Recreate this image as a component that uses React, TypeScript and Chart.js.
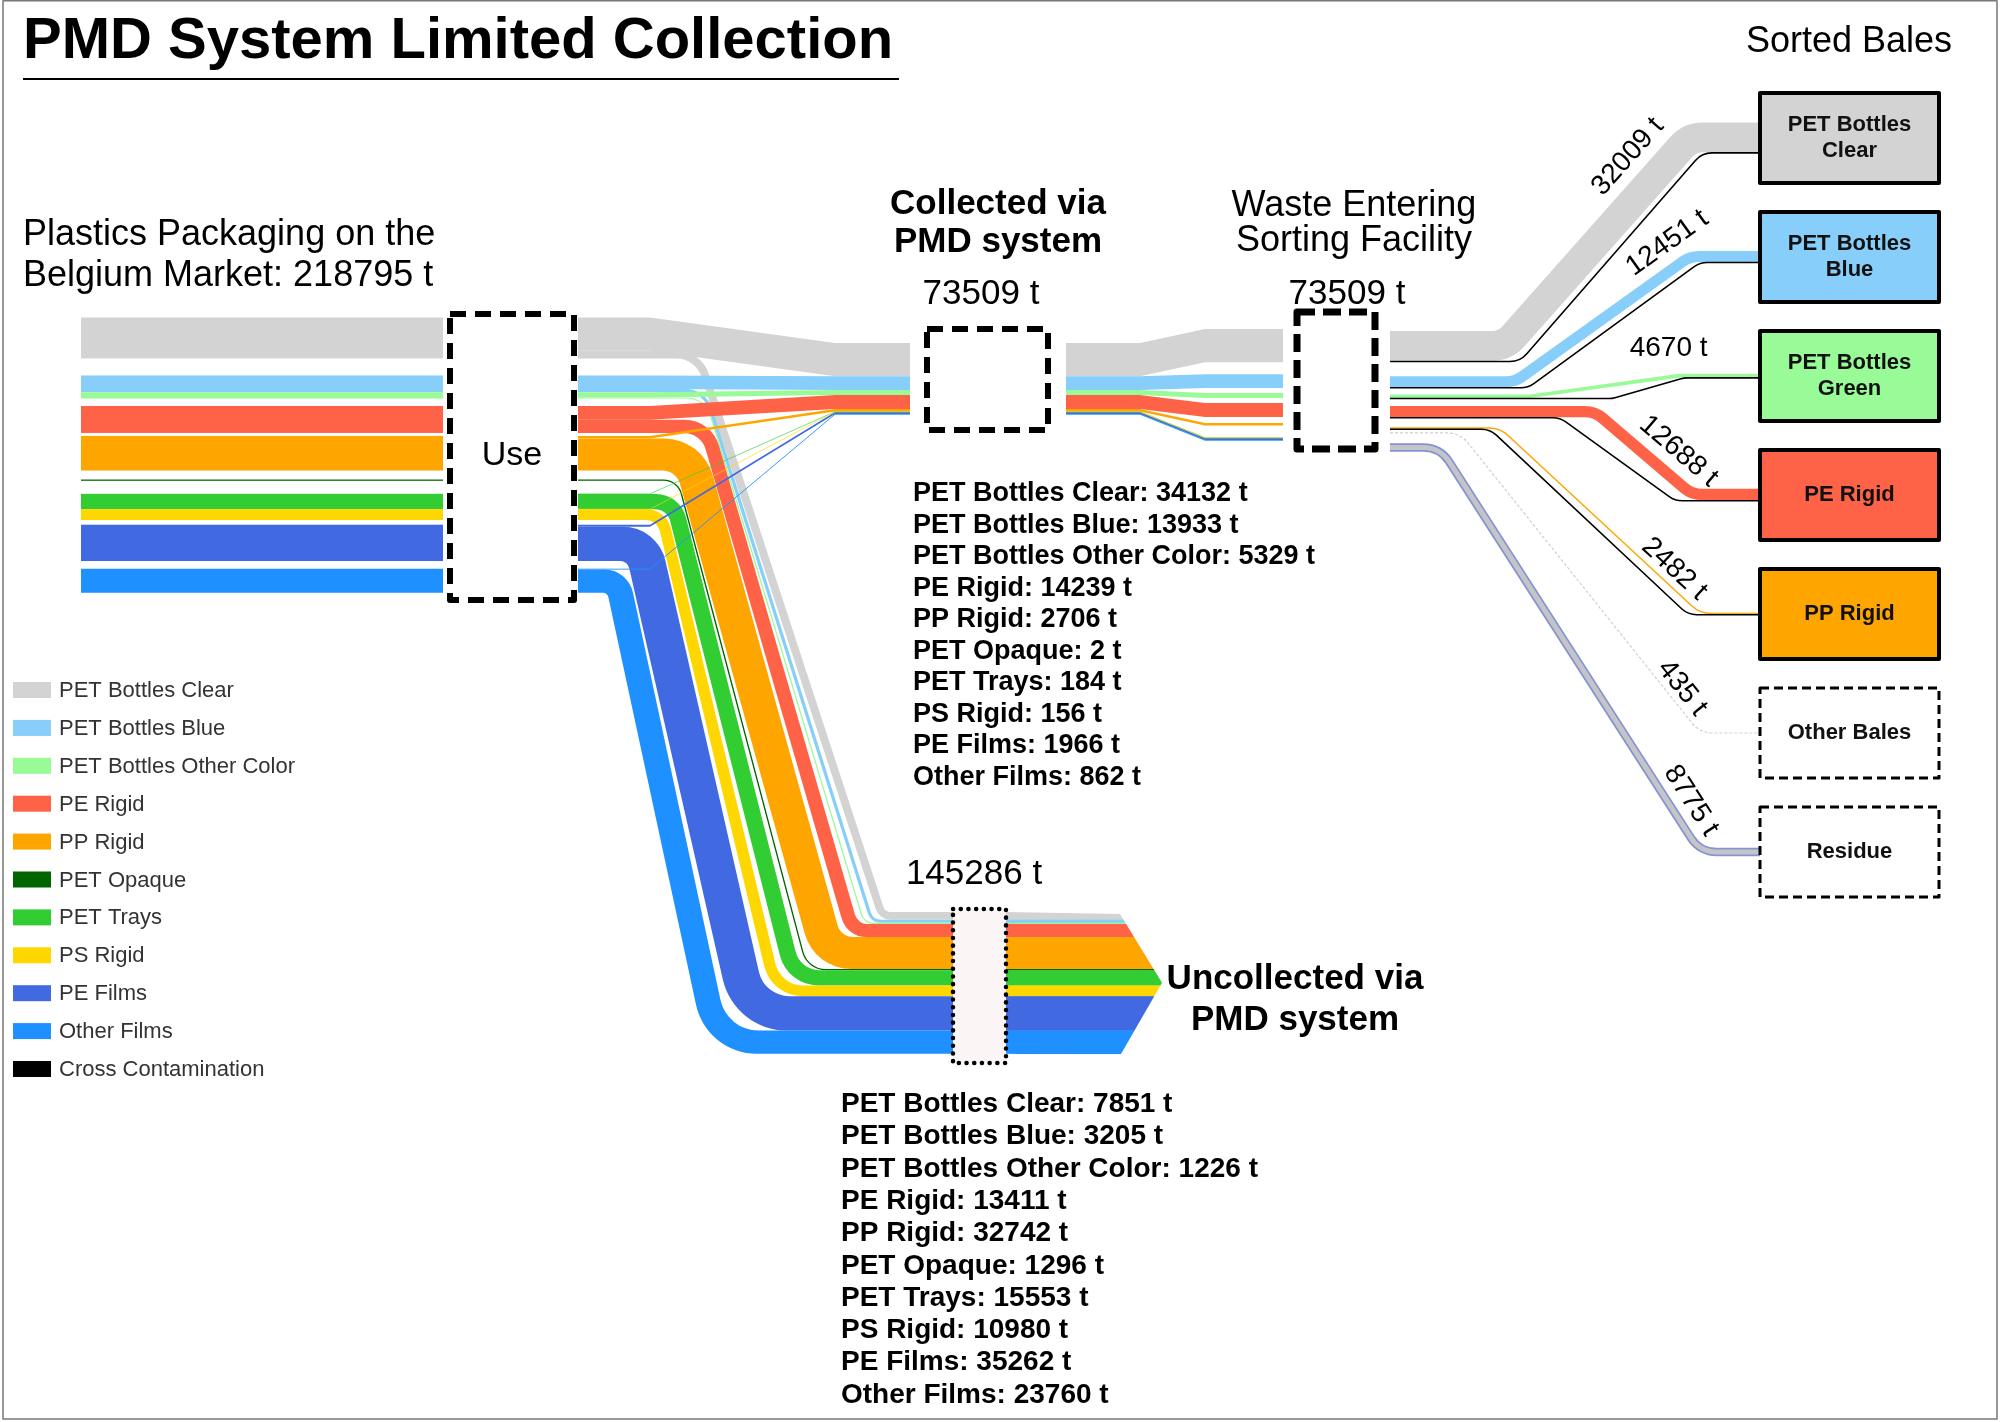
import React, { useEffect, useRef } from "react";
import { Chart, registerables } from "chart.js";

Chart.register(...registerables);

// ---------------- DATA ----------------
const CATEGORIES = [
  "PET Bottles Clear",
  "PET Bottles Blue",
  "PET Bottles Other Color",
  "PE Rigid",
  "PP Rigid",
  "PET Opaque",
  "PET Trays",
  "PS Rigid",
  "PE Films",
  "Other Films",
];
const CATEGORY_COLORS = ["#D3D3D3", "#87CEFA", "#98FB98", "#FF6347", "#FFA500", "#006400", "#32CD32", "#FFD700", "#4169E1", "#1E90FF"];
const COLLECTED = [34132, 13933, 5329, 14239, 2706, 2, 184, 156, 1966, 862];
const UNCOLLECTED = [7851, 3205, 1226, 13411, 32742, 1296, 15553, 10980, 35262, 23760];

const BALE_LABELS = [["PET Bottles", "Clear"], ["PET Bottles", "Blue"], ["PET Bottles", "Green"], ["PE Rigid"], ["PP Rigid"], ["Other Bales"], ["Residue"]];
const BALE_TOTALS = [32009, 12451, 4670, 12688, 2482, 435, 8775];
const BALE_CONTAMINATION = [1500, 1200, 800, 1000, 1000, 0, 0];
const BALE_COLORS = ["#D3D3D3", "#87CEFA", "#98FB98", "#FF6347", "#FFA500", "", ""];
const BALE_SOLID = [true, true, true, true, true, false, false];

const LEGEND_LABELS = [...CATEGORIES, "Cross Contamination"];
const LEGEND_COLORS = [...CATEGORY_COLORS, "#000000"];

// ---------------- LAYOUT (not data) ----------------
const W = 2000;
const H = 1422;
const FONT = '"Liberation Sans", Arial, Helvetica, sans-serif';
const K = 1 / 1025; // layout units per tonne
const LAYOUT = {
  barX0: 81,
  barX1: 443,
  barTop: 317.5,
  barGaps: [17, 0, 7.4, 3, 9, 13, 0, 4.7, 7.7],
  useBox: [450, 314, 574, 600],
  flowStart: 578,
  colFlowX: [578, 650, 835, 910],
  colTop: 343,
  colBox: [927, 329, 1048, 430],
  facFlowX: [1066, 1140, 1205, 1283],
  facTop: 329,
  facGaps: [12, 5, 5, 6, 12, 0, 0, 0, 0],
  facBox: [1297, 312, 1375, 449],
  uncTop: 912,
  uncX: 953,
  uncBox: [953, 909, 1006, 1063],
  descA: { y: 600, x: 609, gap: 2 },
  descB: { y: 800, x: 652, gap: 4.5 },
  descStretch: 1.1,
  arrow: { x0: 1006, x1: 1120, tip: 1162 },
  outX: 1390,
  outTop: 331,
  outGaps: [14, 6, 7, 9, 3, 10],
  baleX0: 1760,
  baleX1: 1939,
  baleTop: 93,
  baleH: 90,
  baleStep: 119,
  baleBendStart: [1505, 1515, 1530, 1595, 1500, 1460, 1440],
  baleBendEnd: [1690, 1690, 1680, 1692, 1700, 1700, 1700],
  contBendStart: [1520, 1528, 1612, 1560, 1490],
  contBendEnd: [1702, 1700, 1684, 1675, 1688],
  labelT: [0.8, 0.95, 0.95, 0.7, 0.82, 0.88, 0.9],
  labelOff: [18, 18, 26, 18, 14, 14, 16],
};

type P = { x: number; y: number };
const sum = (a: number[]) => a.reduce((s, v) => s + v, 0);

function tracePath(ctx: CanvasRenderingContext2D, pts: P[], radii: number[], move: boolean) {
  if (move) ctx.moveTo(pts[0].x, pts[0].y);
  else ctx.lineTo(pts[0].x, pts[0].y);
  const n = pts.length;
  for (let k = 1; k < n - 1; k++) {
    const p0 = pts[k - 1], p1 = pts[k], p2 = pts[k + 1];
    const l1 = Math.hypot(p1.x - p0.x, p1.y - p0.y);
    const l2 = Math.hypot(p2.x - p1.x, p2.y - p1.y);
    let r = radii[k - 1] || 0;
    if (l1 < 0.01 || l2 < 0.01 || r <= 0) {
      ctx.lineTo(p1.x, p1.y);
      continue;
    }
    const ax = (p0.x - p1.x) / l1, ay = (p0.y - p1.y) / l1;
    const bx = (p2.x - p1.x) / l2, by = (p2.y - p1.y) / l2;
    const cos = Math.max(-1, Math.min(1, ax * bx + ay * by));
    const alpha = Math.acos(cos);
    if (alpha > Math.PI - 0.01) {
      ctx.lineTo(p1.x, p1.y);
      continue;
    }
    const tanHalf = Math.tan(alpha / 2);
    const avail1 = k - 1 === 0 ? l1 : l1 / 2;
    const avail2 = k + 1 === n - 1 ? l2 : l2 / 2;
    r = Math.min(r, 0.95 * Math.min(avail1, avail2) * tanHalf);
    ctx.arcTo(p1.x, p1.y, p2.x, p2.y, r);
  }
  ctx.lineTo(pts[n - 1].x, pts[n - 1].y);
}

function drawAll(chart: any) {
  const ctx: CanvasRenderingContext2D = chart.ctx;
  const xs = chart.scales.x;
  const ys = chart.scales.y;
  const X = (v: number) => xs.getPixelForValue(v);
  const Y = (v: number) => ys.getPixelForValue(v);
  const PX = (u: number) => Math.abs(Y(u) - Y(0));
  const pt = (x: number, y: number): P => ({ x: X(x), y: Y(y) });
  const T = (t: number) => t * K;
  const L = LAYOUT;

  ctx.save();

  // ---------- stacks ----------
  const barTop: number[] = [];
  let acc = L.barTop;
  CATEGORIES.forEach((_, i) => {
    barTop.push(acc);
    acc += T(COLLECTED[i] + UNCOLLECTED[i]) + (L.barGaps[i] ?? 0);
  });
  const colTop: number[] = [];
  acc = L.colTop;
  COLLECTED.forEach((v) => { colTop.push(acc); acc += T(v); });
  const facTop: number[] = [];
  acc = L.facTop;
  COLLECTED.forEach((v, i) => { facTop.push(acc); acc += T(v) + (L.facGaps[i] ?? 0); });
  const uncTop: number[] = [];
  acc = L.uncTop;
  UNCOLLECTED.forEach((v) => { uncTop.push(acc); acc += T(v); });
  const uncBottom = acc;

  // ---------- left bars ----------
  CATEGORIES.forEach((_, i) => {
    ctx.fillStyle = CATEGORY_COLORS[i];
    const h = T(COLLECTED[i] + UNCOLLECTED[i]);
    ctx.fillRect(X(L.barX0), Y(barTop[i]), X(L.barX1) - X(L.barX0), PX(h));
  });

  // ---------- uncollected bands (descending) ----------
  const hw = UNCOLLECTED.map((v) => T(v) * L.descStretch);
  const n = CATEGORIES.length;
  for (let i = 0; i < n; i++) {
    const w = T(UNCOLLECTED[i]);
    let below = 0;
    for (let m = i + 1; m < n; m++) below += hw[m];
    const cntBelow = n - 1 - i;
    const La = L.descA.x + below + cntBelow * L.descA.gap;
    const Lb = L.descB.x + below + cntBelow * L.descB.gap;
    const s = (Lb - La) / (L.descB.y - L.descA.y);
    const Lx = (y: number) => La + s * (y - L.descA.y);
    const Rx = (y: number) => Lx(y) + hw[i];
    let above = 0;
    for (let m = 0; m < i; m++) above += hw[m] + L.descB.gap;
    const rInTop = 6 + 0.12 * (La - L.descA.x);
    const rOutTop = rInTop + w;
    const rInBot = 8 + 0.18 * above;
    const rOutBot = rInBot + w;
    const ys0 = barTop[i] + T(COLLECTED[i]);
    const ys1 = ys0 + w;
    const yd0 = uncTop[i];
    const yd1 = yd0 + w;
    const upper = [pt(L.flowStart, ys0), pt(Rx(ys0), ys0), pt(Rx(yd0), yd0), pt(L.uncX, yd0)];
    const lower = [pt(L.uncX, yd1), pt(Lx(yd1), yd1), pt(Lx(ys1), ys1), pt(L.flowStart, ys1)];
    ctx.beginPath();
    tracePath(ctx, upper, [rOutTop, rInBot], true);
    tracePath(ctx, lower, [rOutBot, rInTop], false);
    ctx.closePath();
    ctx.fillStyle = CATEGORY_COLORS[i];
    ctx.fill();
  }

  // ---------- band with vertical thickness ----------
  const drawBand = (xsArr: number[], tops: number[], h: number, color: string) => {
    const hp = PX(h);
    if (hp >= 1.2) {
      ctx.beginPath();
      ctx.moveTo(X(xsArr[0]), Y(tops[0]));
      for (let k = 1; k < xsArr.length; k++) ctx.lineTo(X(xsArr[k]), Y(tops[k]));
      for (let k = xsArr.length - 1; k >= 0; k--) ctx.lineTo(X(xsArr[k]), Y(tops[k] + h));
      ctx.closePath();
      ctx.fillStyle = color;
      ctx.fill();
    } else {
      ctx.beginPath();
      ctx.moveTo(X(xsArr[0]), Y(tops[0] + h / 2));
      for (let k = 1; k < xsArr.length; k++) ctx.lineTo(X(xsArr[k]), Y(tops[k] + h / 2));
      ctx.strokeStyle = color;
      ctx.lineWidth = Math.max(hp, 0.9);
      ctx.globalAlpha = hp < 0.5 ? 0.7 : 1;
      ctx.stroke();
      ctx.globalAlpha = 1;
    }
  };

  const order = CATEGORIES.map((_, i) => i).sort((a, b) => COLLECTED[b] - COLLECTED[a]);
  // Use -> Collected
  order.forEach((i) => {
    if (COLLECTED[i] < 20) return;
    const h = T(COLLECTED[i]);
    const s0 = barTop[i];
    const t0 = colTop[i];
    drawBand(L.colFlowX, [s0, s0, t0, t0], h, CATEGORY_COLORS[i]);
  });
  // Collected -> Sorting facility
  order.forEach((i) => {
    if (COLLECTED[i] < 20) return;
    const h = T(COLLECTED[i]);
    const c0 = colTop[i];
    const f0 = facTop[i];
    drawBand(L.facFlowX, [c0, c0, f0, f0], h, CATEGORY_COLORS[i]);
  });

  // ---------- sorting facility -> bales ----------
  const outTop: number[] = [];
  acc = L.outTop;
  BALE_TOTALS.forEach((v, b) => { outTop.push(acc); acc += T(v) + (L.outGaps[b] ?? 0); });

  const strokeFlow = (pts: P[], width: number, color: string, radius: number, dash?: number[]) => {
    ctx.beginPath();
    tracePath(ctx, pts, [radius, radius], true);
    ctx.strokeStyle = color;
    ctx.lineWidth = width;
    ctx.lineJoin = "round";
    ctx.lineCap = "butt";
    ctx.setLineDash(dash || []);
    ctx.stroke();
    ctx.setLineDash([]);
  };

  const labels: { text: string; x: number; y: number; a: number }[] = [];
  BALE_TOTALS.forEach((total, b) => {
    const tw = T(total);
    const cw = T(BALE_CONTAMINATION[b]);
    const col = tw - cw;
    const yc = L.baleTop + b * L.baleStep + L.baleH / 2;
    const endTop = yc - tw / 2;
    const y0 = outTop[b] + col / 2;
    const y1 = endTop + col / 2;
    const bs = L.baleBendStart[b];
    const be = L.baleBendEnd[b];
    const pts = [pt(L.outX, y0), pt(bs, y0), pt(be, y1), pt(L.baleX0, y1)];
    if (b === 5) {
      strokeFlow(pts, Math.max(PX(col), 1.2), "#cfcfcf", 26, [3, 2]);
    } else if (b === 6) {
      strokeFlow(pts, PX(col), "#8494d2", 30);
      strokeFlow(pts, Math.max(PX(col) - 3.5, 1), "#c5c5c9", 30);
    } else {
      strokeFlow(pts, PX(col), BALE_COLORS[b], 28);
    }
    if (cw > 0) {
      const yc0 = outTop[b] + col + cw / 2;
      const yc1 = endTop + col + cw / 2;
      const cpts = [pt(L.outX, yc0), pt(L.contBendStart[b], yc0), pt(L.contBendEnd[b], yc1), pt(L.baleX0, yc1)];
      strokeFlow(cpts, Math.max(PX(cw), 1.6), "#000000", 22);
    }
    // label along the diagonal
    const dx = be - bs;
    const dy = y1 - y0;
    const len = Math.hypot(dx, dy);
    const ux = dx / len, uy = dy / len;
    let nx = uy, ny = -ux;
    if (ny > 0) { nx = -nx; ny = -ny; }
    const t = L.labelT[b];
    const off = tw / 2 + L.labelOff[b];
    const lx = bs + t * dx + nx * off;
    const ly = y0 + t * dy + ny * off;
    let a = Math.atan2(dy, dx);
    if (Math.abs(a) < 0.25) a = 0;
    labels.push({ text: `${total} t`, x: lx, y: ly, a });
  });

  // ---------- uncollected arrow ----------
  ctx.save();
  ctx.beginPath();
  const midY = (L.uncTop + uncBottom) / 2;
  ctx.moveTo(X(L.arrow.x0), Y(L.uncTop));
  ctx.lineTo(X(L.arrow.x1), Y(L.uncTop + 2));
  ctx.lineTo(X(L.arrow.tip), Y(midY));
  ctx.lineTo(X(L.arrow.x1), Y(uncBottom + 2));
  ctx.lineTo(X(L.arrow.x0), Y(uncBottom));
  ctx.closePath();
  ctx.clip();
  UNCOLLECTED.forEach((v, i) => {
    ctx.fillStyle = CATEGORY_COLORS[i];
    ctx.fillRect(X(L.arrow.x0), Y(uncTop[i]), X(L.arrow.tip) - X(L.arrow.x0) + 2, PX(T(v)) + 0.3);
  });
  ctx.restore();

  // ---------- boxes ----------
  const dashedBox = (bx: number[], lw: number, dash: number[], fill?: string) => {
    const x0 = X(bx[0]), y0 = Y(bx[1]), x1 = X(bx[2]), y1 = Y(bx[3]);
    if (fill) { ctx.fillStyle = fill; ctx.fillRect(x0, y0, x1 - x0, y1 - y0); }
    ctx.setLineDash(dash);
    ctx.lineWidth = lw;
    ctx.strokeStyle = "#000";
    ctx.lineCap = "butt";
    ctx.strokeRect(x0, y0, x1 - x0, y1 - y0);
    ctx.setLineDash([]);
  };
  dashedBox(L.useBox, 6, [16, 9], "#ffffff");
  dashedBox(L.colBox, 6, [16, 9], "#ffffff");
  dashedBox(L.facBox, 7, [18, 8], "#ffffff");
  // dotted uncollected node
  {
    const b = L.uncBox;
    const x0 = X(b[0]), y0 = Y(b[1]), x1 = X(b[2]), y1 = Y(b[3]);
    ctx.fillStyle = "#fcf5f5";
    ctx.fillRect(x0, y0, x1 - x0, y1 - y0);
    ctx.setLineDash([0.1, 7.6]);
    ctx.lineCap = "round";
    ctx.lineWidth = 4.5;
    ctx.strokeStyle = "#000";
    ctx.strokeRect(x0, y0, x1 - x0, y1 - y0);
    ctx.setLineDash([]);
    ctx.lineCap = "butt";
  }

  // bales
  BALE_LABELS.forEach((lines, b) => {
    const y0 = L.baleTop + b * L.baleStep;
    const bx = [L.baleX0, y0, L.baleX1, y0 + L.baleH];
    if (BALE_SOLID[b]) {
      ctx.fillStyle = BALE_COLORS[b];
      ctx.fillRect(X(bx[0]), Y(bx[1]), X(bx[2]) - X(bx[0]), Y(bx[3]) - Y(bx[1]));
      ctx.lineWidth = 4;
      ctx.strokeStyle = "#000";
      ctx.setLineDash([]);
      ctx.strokeRect(X(bx[0]), Y(bx[1]), X(bx[2]) - X(bx[0]), Y(bx[3]) - Y(bx[1]));
    } else {
      dashedBox(bx, 3, [9, 5], "#ffffff");
    }
    ctx.fillStyle = "#111";
    ctx.font = `bold 22px ${FONT}`;
    ctx.textAlign = "center";
    ctx.textBaseline = "middle";
    const cx = (L.baleX0 + L.baleX1) / 2;
    const cy = y0 + L.baleH / 2;
    lines.forEach((ln, k) => {
      const yy = cy + (k - (lines.length - 1) / 2) * 26;
      ctx.fillText(ln, X(cx), Y(yy));
    });
  });

  // ---------- texts ----------
  const text = (s: string, x: number, y: number, font: string, align: CanvasTextAlign = "left", base: CanvasTextBaseline = "alphabetic", color = "#000") => {
    ctx.font = font;
    ctx.textAlign = align;
    ctx.textBaseline = base;
    ctx.fillStyle = color;
    ctx.fillText(s, X(x), Y(y));
  };

  labels.forEach((lb) => {
    ctx.save();
    ctx.translate(X(lb.x), Y(lb.y));
    ctx.rotate(lb.a);
    ctx.font = `28px ${FONT}`;
    ctx.textAlign = "center";
    ctx.textBaseline = "middle";
    ctx.fillStyle = "#000";
    ctx.fillText(lb.text, 0, 0);
    ctx.restore();
  });

  const collectedTotal = sum(COLLECTED);
  const uncollectedTotal = sum(UNCOLLECTED);
  const marketTotal = collectedTotal + uncollectedTotal;

  text("PMD System Limited Collection", 23, 58, `bold 58px ${FONT}`);
  ctx.strokeStyle = "#000";
  ctx.lineWidth = 2;
  ctx.beginPath();
  ctx.moveTo(X(23), Y(79));
  ctx.lineTo(X(899), Y(79));
  ctx.stroke();

  text("Sorted Bales", 1849, 52, `36px ${FONT}`, "center");
  text("Plastics Packaging on the", 23, 245, `36px ${FONT}`);
  text(`Belgium Market: ${marketTotal} t`, 23, 286, `36px ${FONT}`);
  text("Use", 512, 456, `34px ${FONT}`, "center", "middle");

  text("Collected via", 998, 214, `bold 35px ${FONT}`, "center");
  text("PMD system", 998, 252, `bold 35px ${FONT}`, "center");
  text(`${collectedTotal} t`, 981, 304, `35px ${FONT}`, "center");

  text("Waste Entering", 1354, 216, `36px ${FONT}`, "center");
  text("Sorting Facility", 1354, 251, `36px ${FONT}`, "center");
  text(`${collectedTotal} t`, 1347, 304, `35px ${FONT}`, "center");

  text(`${uncollectedTotal} t`, 974, 884, `35px ${FONT}`, "center");
  text("Uncollected via", 1295, 989, `bold 35px ${FONT}`, "center");
  text("PMD system", 1295, 1030, `bold 35px ${FONT}`, "center");

  CATEGORIES.forEach((c, i) => {
    text(`${c}: ${COLLECTED[i]} t`, 913, 501 + i * 31.5, `bold 27px ${FONT}`);
    text(`${c}: ${UNCOLLECTED[i]} t`, 841, 1112 + i * 32.3, `bold 28px ${FONT}`);
  });

  // legend
  LEGEND_LABELS.forEach((lab, j) => {
    const cy = 690 + j * 37.9;
    ctx.fillStyle = LEGEND_COLORS[j];
    ctx.fillRect(X(13), Y(cy - 8), X(51) - X(13), PX(16));
    text(lab, 59, cy + 1, `22px ${FONT}`, "left", "middle", "#333");
  });

  // frame
  ctx.strokeStyle = "#777";
  ctx.lineWidth = 1.5;
  ctx.strokeRect(X(3), Y(0.8), X(1997) - X(3), Y(1419) - Y(0.8));

  ctx.restore();
}

const sankeyPlugin = {
  id: "pmdSankey",
  beforeDraw(chart: any) {
    const ctx = chart.ctx;
    ctx.save();
    ctx.fillStyle = "#ffffff";
    ctx.fillRect(0, 0, chart.width, chart.height);
    ctx.restore();
  },
  afterDraw(chart: any) {
    drawAll(chart);
  },
};

export default function App() {
  const ref = useRef<HTMLCanvasElement>(null);
  useEffect(() => {
    if (!ref.current) return;
    const chart = new Chart(ref.current, {
      type: "scatter",
      data: { datasets: [{ data: [], pointRadius: 0 }] },
      options: {
        animation: false,
        responsive: true,
        maintainAspectRatio: false,
        layout: { padding: 0 },
        scales: {
          x: { type: "linear", min: 0, max: W, display: false },
          y: { type: "linear", min: 0, max: H, reverse: true, display: false },
        },
        plugins: { legend: { display: false }, tooltip: { enabled: false } },
      },
      plugins: [sankeyPlugin],
    } as any);
    return () => chart.destroy();
  }, []);
  return (
    <div style={{ position: "fixed", left: 0, top: 0, width: W, height: H, background: "#fff" }}>
      <canvas ref={ref} />
    </div>
  );
}
